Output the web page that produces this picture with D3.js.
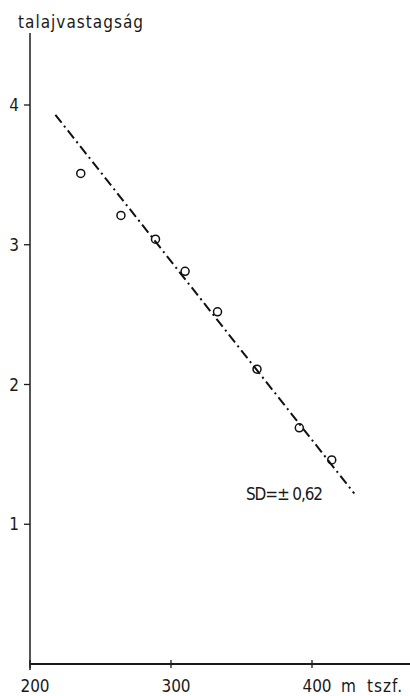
<!DOCTYPE html>
<html lang="hu">
<head>
<meta charset="UTF-8">
<script src="https://d3js.org/d3.v7.min.js"></script>
<title>talajvastagság</title>
<style>
  body { margin: 0; background: #fff; }
  svg text { font-family: "DejaVu Sans Condensed", "DejaVu Sans", sans-serif; font-stretch: condensed; fill: #1a1a1a; }
</style>
</head>
<body>
<svg width="410" height="696"></svg>
<script>
// tengerszint feletti magasság (m) és talajvastagság mérések
const heights = [236, 264.5, 289, 310, 333, 361, 391, 414];
const thickness = [3.51, 3.21, 3.04, 2.81, 2.52, 2.11, 1.69, 1.46];
// regressziós egyenes végpontjai
const fitX = [218, 430];
const fitY = [3.93, 1.22];
const xTicks = [200, 300, 400];
const yTicks = [1, 2, 3, 4];

const svg = d3.select('svg');

const x = d3.scaleLinear().domain([200, 400]).range([30, 312]);
const y = d3.scaleLinear().domain([0, 4]).range([664, 105]);

// tengelyek
svg.append('line')
  .attr('x1', x(200)).attr('x2', 410)
  .attr('y1', y(0)).attr('y2', y(0))
  .attr('stroke', '#1a1a1a').attr('stroke-width', 1.8);
svg.append('line')
  .attr('x1', x(200)).attr('x2', x(200))
  .attr('y1', 33).attr('y2', y(0) + 6)
  .attr('stroke', '#2a2a2a').attr('stroke-width', 1.6);

// y osztások
svg.selectAll('.ytick').data(yTicks).enter().append('line')
  .attr('class', 'ytick')
  .attr('x1', x(200) - 6).attr('x2', x(200))
  .attr('y1', d => y(d)).attr('y2', d => y(d))
  .attr('stroke', '#1a1a1a').attr('stroke-width', 1.3);
svg.selectAll('.ylab').data(yTicks).enter().append('text')
  .attr('class', 'ylab')
  .attr('x', 19).attr('y', d => y(d) + 6)
  .attr('text-anchor', 'end')
  .attr('font-size', 17)
  .text(d => d);

// x osztások
svg.selectAll('.xtick').data(xTicks).enter().append('line')
  .attr('class', 'xtick')
  .attr('x1', d => x(d)).attr('x2', d => x(d))
  .attr('y1', y(0) - 4).attr('y2', y(0) + 4)
  .attr('stroke', '#1a1a1a').attr('stroke-width', 1.3);
svg.selectAll('.xlab').data(xTicks).enter().append('text')
  .attr('class', 'xlab')
  .attr('x', d => x(d) + 5).attr('y', 692)
  .attr('text-anchor', 'middle')
  .attr('font-size', 17)
  .text(d => d);

svg.append('text').attr('x', 341).attr('y', 692).attr('font-size', 17).text('m');
svg.append('text').attr('x', 367).attr('y', 692).attr('font-size', 17)
  .attr('textLength', 35).text('tszf.');

svg.append('text')
  .attr('x', 18).attr('y', 28)
  .attr('font-size', 17)
  .attr('textLength', 125)
  .text('talajvastagság');

// illesztett egyenes
svg.append('line')
  .attr('x1', x(fitX[0])).attr('y1', y(fitY[0]))
  .attr('x2', x(fitX[1])).attr('y2', y(fitY[1]))
  .attr('stroke', '#111').attr('stroke-width', 2)
  .attr('stroke-dasharray', '10,4,2,4');

// mérési pontok
svg.selectAll('.pt').data(heights).enter().append('circle')
  .attr('class', 'pt')
  .attr('cx', d => x(d))
  .attr('cy', (d, i) => y(thickness[i]))
  .attr('r', 4)
  .attr('fill', 'none')
  .attr('stroke', '#111').attr('stroke-width', 1.5);

svg.append('text')
  .attr('x', 246).attr('y', 500)
  .attr('font-size', 17)
  .attr('textLength', 77)
  .text('SD=± 0,62');
</script>
</body>
</html>
